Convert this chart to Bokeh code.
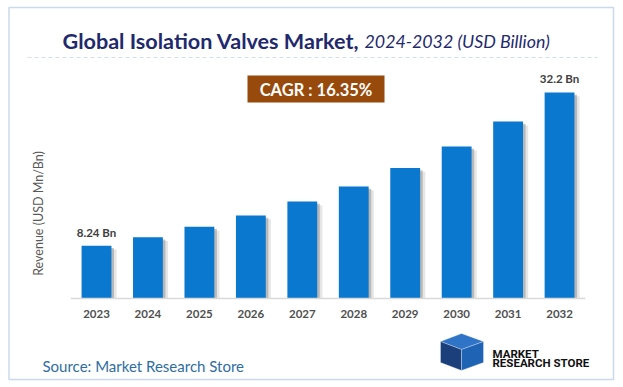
import math
from bokeh.plotting import figure
from bokeh.models import Label, BoxAnnotation, PolyAnnotation, Range1d, ColumnDataSource
from bokeh.core.properties import value
from bokeh.embed import file_html
from bokeh.resources import INLINE

# ---- data ----
years = ["2023", "2024", "2025", "2026", "2027", "2028", "2029", "2030", "2031", "2032"]
revenue = [8.24, 9.58, 11.2, 12.97, 15.15, 17.5, 20.4, 23.75, 27.65, 32.2]
cagr_text = "CAGR : 16.35%"
title_main = "Global Isolation Valves Market,"
title_sub = "2024-2032 (USD Billion)"
y_label = "Revenue (USD Mn/Bn)"
source_text = "Source: Market Research Store"
logo_lines = ["MARKET", "RESEARCH STORE"]

FONT = "Lato"
BAR = "#0A78CE"

# ---- layout (canvas pixels) ----
W, H = 615, 381
BASE_Y = 298          # baseline of bars on canvas
FIRST_X = 96          # centre of first bar on canvas
PX_X = 51.45          # pixels per category step
PX_Y = 6.398          # pixels per USD Bn

def sx(X):
    return X
def sy(Y):
    return H - Y

xi = list(range(len(years)))

p = figure(x_range=Range1d(-FIRST_X / PX_X, (W - FIRST_X) / PX_X),
           y_range=Range1d(-(H - BASE_Y) / PX_Y, BASE_Y / PX_Y),
           width=W, height=H, output_backend="svg", toolbar_location=None,
           x_axis_location=None, y_axis_location=None,
           min_border=0, min_border_left=0, min_border_right=0,
           min_border_top=0, min_border_bottom=0)
p.outline_line_color = None
p.grid.visible = False
p.background_fill_color = "white"
p.border_fill_color = "white"

src = ColumnDataSource(dict(x=xi, year=years, val=revenue,
                            xs1=[v + 0.05 for v in xi], xs2=[v + 0.10 for v in xi],
                            sh1=[v - 0.35 for v in revenue],
                            sh2=[v - 0.6 for v in revenue]))
# soft shadow to the right of bars
p.vbar(x="xs2", top="sh2", width=0.58, source=src,
       fill_color="#9a9a9a", fill_alpha=0.25, line_color=None)
p.vbar(x="xs1", top="sh1", width=0.58, source=src,
       fill_color="#808080", fill_alpha=0.45, line_color=None)
p.vbar(x="x", top="val", width=0.58, source=src, fill_color=BAR, line_color=None)

# x axis line and year labels
p.segment(x0=[xi[0] - 0.5], x1=[xi[-1] + 0.5], y0=[0], y1=[0],
          line_color="#d9d9d9", line_width=1.5)
p.text(x="x", y=0, text="year", source=src, y_offset=11, text_align="center",
       text_baseline="top", text_font_size="11.5px", text_font_style="bold",
       text_color="#505050", text_font=value(FONT))

# value labels on first and last bars
lab_src = ColumnDataSource(dict(x=[xi[0], xi[-1]], y=[revenue[0], revenue[-1]],
                                t=[f"{revenue[0]} Bn", f"{revenue[-1]} Bn"]))
p.text(x="x", y="y", text="t", source=lab_src, y_offset=-7, text_align="center",
       text_baseline="bottom", text_font_size="11.5px", text_font_style="bold",
       text_color="#404040", text_font=value(FONT))

def label(X, Y, text, **kw):
    p.add_layout(Label(x=sx(X), y=sy(Y), x_units="screen", y_units="screen",
                       text=text, **kw))

# y axis title
label(38, 213, y_label, angle=math.pi / 2, text_font=FONT, text_font_size="12.5px",
      text_color="#595959", text_align="center", text_baseline="middle")

# outer border
p.add_layout(BoxAnnotation(left=sx(8.5), right=sx(613), top=sy(7), bottom=sy(379),
                           left_units="screen", right_units="screen",
                           top_units="screen", bottom_units="screen",
                           fill_alpha=0, line_color="#4F81BD", line_width=1.5))

# title
label(62, 40, title_main, text_font=FONT, text_font_style="bold",
      text_font_size="21.6px", text_color="#1F2A6E", text_baseline="alphabetic")
label(364, 40, title_sub, text_font=FONT, text_font_style="italic",
      text_font_size="17.8px", text_color="#1F2A6E", text_baseline="alphabetic")

# dashed separator
p.add_layout(PolyAnnotation(xs=[sx(27), sx(597)], ys=[sy(57), sy(57)],
                            xs_units="screen", ys_units="screen",
                            fill_alpha=0, line_color="#6F93CF", line_width=1,
                            line_dash="4 3"))

# CAGR box
p.add_layout(BoxAnnotation(left=sx(247), right=sx(384), top=sy(75), bottom=sy(102),
                           left_units="screen", right_units="screen",
                           top_units="screen", bottom_units="screen",
                           fill_color="#984A0C", fill_alpha=1, line_color=None))
label(315.5, 89, cagr_text, text_font=FONT, text_font_style="bold",
      text_font_size="16.5px", text_color="white", text_align="center",
      text_baseline="middle")

# source
label(42, 365, source_text, text_font=FONT, text_font_size="15px",
      text_color="#2E6DA4", text_baseline="alphabetic")

# logo
faces = [
    ([440, 461, 483, 461], [341, 333, 341, 349], "#2F74C6"),
    ([440, 461, 461, 440], [341, 349, 370, 362], "#1B3F7A"),
    ([461, 483, 483, 461], [349, 341, 362, 370], "#1F63B5"),
]
for xs_, ys_, c in faces:
    p.add_layout(PolyAnnotation(xs=[sx(v) for v in xs_], ys=[sy(v) for v in ys_],
                                xs_units="screen", ys_units="screen",
                                fill_color=c, fill_alpha=1, line_color="white", line_width=1))
for txt, base in zip(logo_lines, [353, 362]):
    label(492, base, txt, text_font="Roboto", text_font_style="bold",
          text_font_size="11.5px", text_color="#111111", text_baseline="alphabetic")

open("out.html", "w").write(file_html(p, INLINE))
